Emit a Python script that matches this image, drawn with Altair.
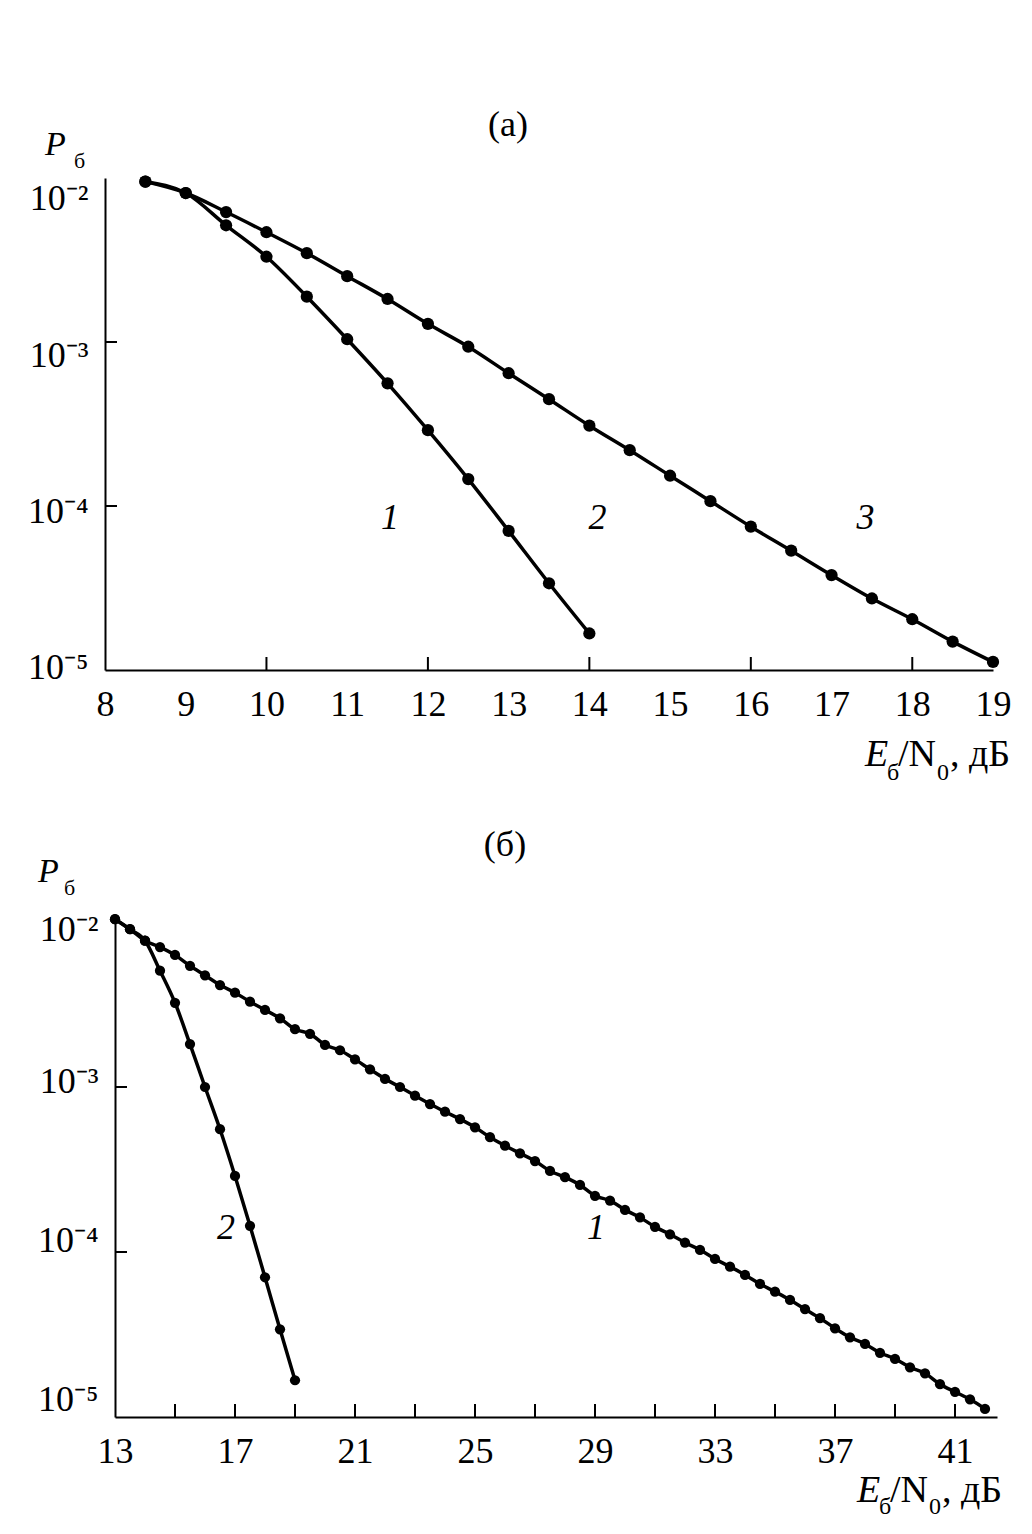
import altair as alt
import pandas as pd

FONT = "Liberation Serif"

# ---------------- panel (a) data ----------------
a_x_long = [8.5, 9, 9.5, 10, 10.5, 11, 11.5, 12, 12.5, 13, 13.5, 14, 14.5, 15, 15.5, 16,
            16.5, 17, 17.5, 18, 18.5, 19]
a_p_long = [9.5e-3, 8.1e-3, 6.2e-3, 4.67e-3, 3.48e-3, 2.52e-3, 1.83e-3, 1.29e-3, 9.36e-4,
            6.45e-4, 4.48e-4, 3.09e-4, 2.19e-4, 1.53e-4, 1.07e-4, 7.48e-5, 5.34e-5, 3.79e-5,
            2.73e-5, 2.04e-5, 1.49e-5, 1.12e-5]
a_x_steep = [8.5, 9, 9.5, 10, 10.5, 11, 11.5, 12, 12.5, 13, 13.5, 14]
a_p_steep = [9.5e-3, 8.1e-3, 5.15e-3, 3.31e-3, 1.89e-3, 1.04e-3, 5.6e-4, 2.9e-4, 1.46e-4,
             7.05e-5, 3.38e-5, 1.67e-5]
a_x_labels = [8, 9, 10, 11, 12, 13, 14, 15, 16, 17, 18, 19]
a_x_inner_ticks = [10, 12, 14, 16, 18]
a_curve_names = ["1", "2", "3"]
a_curve_name_x = [11.53, 14.1, 17.42]
a_curve_name_p = [8.45e-5, 8.45e-5, 8.45e-5]

# ---------------- panel (b) data ----------------
b_x_1 = [13, 13.5, 14, 14.5, 15, 15.5, 16, 16.5, 17, 17.5, 18, 18.5, 19, 19.5, 20, 20.5,
         21, 21.5, 22, 22.5, 23, 23.5, 24, 24.5, 25, 25.5, 26, 26.5, 27, 27.5, 28, 28.5,
         29, 29.5, 30, 30.5, 31, 31.5, 32, 32.5, 33, 33.5, 34, 34.5, 35, 35.5, 36, 36.5,
         37, 37.5, 38, 38.5, 39, 39.5, 40, 40.5, 41, 41.5, 42]
b_p_1 = [1.04e-2, 9.04e-3, 7.71e-3, 7.05e-3, 6.31e-3, 5.43e-3, 4.75e-3, 4.15e-3, 3.73e-3,
         3.29e-3, 2.93e-3, 2.61e-3, 2.24e-3, 2.10e-3, 1.80e-3, 1.67e-3, 1.47e-3, 1.28e-3,
         1.12e-3, 1.00e-3, 8.86e-4, 7.88e-4, 7.08e-4, 6.39e-4, 5.70e-4, 4.96e-4, 4.41e-4,
         3.96e-4, 3.56e-4, 3.10e-4, 2.84e-4, 2.55e-4, 2.19e-4, 2.05e-4, 1.80e-4, 1.62e-4,
         1.42e-4, 1.28e-4, 1.14e-4, 1.03e-4, 9.07e-5, 8.15e-5, 7.26e-5, 6.40e-5, 5.75e-5,
         5.12e-5, 4.51e-5, 3.97e-5, 3.45e-5, 3.04e-5, 2.77e-5, 2.45e-5, 2.25e-5, 2.00e-5,
         1.84e-5, 1.58e-5, 1.42e-5, 1.28e-5, 1.12e-5]
b_x_2 = [13, 13.5, 14, 14.5, 15, 15.5, 16, 16.5, 17, 17.5, 18, 18.5, 19]
b_p_2 = [1.04e-2, 9.04e-3, 7.71e-3, 5.07e-3, 3.24e-3, 1.82e-3, 1.00e-3, 5.55e-4, 2.89e-4,
         1.44e-4, 7.03e-5, 3.40e-5, 1.67e-5]
b_x_labels = [13, 17, 21, 25, 29, 33, 37, 41]
b_x_inner_ticks = [15, 17, 19, 21, 23, 25, 27, 29, 31, 33, 35, 37, 39, 41]
b_curve_names = ["2", "1"]
b_curve_name_x = [16.7, 29.03]
b_curve_name_p = [1.4e-4, 1.4e-4]

# shared
y_tick_values = [1e-5, 1e-4, 1e-3, 1e-2]
y_tick_labels = ["10⁻⁵", "10⁻⁴", "10⁻³", "10⁻²"]
y_inner_ticks = [1e-4, 1e-3]
panel_titles = ["(а)", "(б)"]
y_title_main, y_title_sub = "P", "б"
x_title_parts = ["E", "б", "/N", "0", ", дБ"]

label_expr = "['" + "','".join(y_tick_labels) + "'][round(log(datum.value)/LN10) + 5]"


def ann(text, x, y, size, italic=False, align="left", baseline="alphabetic"):
    return alt.Chart(pd.DataFrame({"t": [text]})).mark_text(
        align=align, baseline=baseline, font=FONT, fontSize=size,
        fontStyle="italic" if italic else "normal", color="black"
    ).encode(x=alt.value(x), y=alt.value(y), text="t:N")


def panel(curves, x_dom, W, H, x_labels, x_inner, pt_size, names, nx, npv,
          title, title_pos, ytitle_pos, xtitle_pos, x_lab_pad, y_offsets):
    xs = alt.Scale(domain=x_dom, nice=False, zero=False)
    ys = alt.Scale(type="log", domain=[1e-5, 1e-2], nice=False)
    o2, o3, o4, o5 = y_offsets
    y_off = {"condition": [{"test": "datum.value > 0.005", "value": o2},
                           {"test": "datum.value > 0.0005", "value": o3},
                           {"test": "datum.value > 0.00005", "value": o4}],
             "value": o5}
    xaxis = alt.Axis(values=x_labels, title=None, ticks=False, grid=False,
                     labelFont=FONT, labelFontSize=36, labelColor="black",
                     labelPadding=x_lab_pad, domainColor="black", domainWidth=2,
                     labelFlush=False, labelOverlap=False)
    yaxis = alt.Axis(values=y_tick_values, title=None, ticks=False, grid=False,
                     labelFont=FONT, labelFontSize=36, labelColor="black",
                     labelPadding=17, labelOffset=y_off, labelExpr=label_expr,
                     domainColor="black", domainWidth=2, labelFlush=False,
                     labelOverlap=False)
    X = lambda f: alt.X(f, scale=xs, axis=xaxis, title=None)
    Y = lambda f: alt.Y(f, scale=ys, axis=yaxis, title=None)
    rows = []
    for cid, (xv, pv) in enumerate(curves):
        for a, b in zip(xv, pv):
            rows.append({"x": a, "p": b, "c": str(cid)})
    df = pd.DataFrame(rows)
    base = alt.Chart(df)
    lines = base.mark_line(color="black", strokeWidth=3.5, interpolate="monotone").encode(
        x=X("x:Q"), y=Y("p:Q"), detail="c:N")
    pts = base.mark_circle(color="black", opacity=1, size=pt_size).encode(
        x=X("x:Q"), y=Y("p:Q"))
    xt = alt.Chart(pd.DataFrame({"x": x_inner})).mark_rule(color="black", strokeWidth=2).encode(
        x=X("x:Q"), y=alt.value(H), y2=alt.value(H - 13))
    yt = alt.Chart(pd.DataFrame({"p": y_inner_ticks})).mark_rule(color="black", strokeWidth=2).encode(
        y=Y("p:Q"), x=alt.value(0), x2=alt.value(12))
    labs = alt.Chart(pd.DataFrame({"x": nx, "p": npv, "t": names})).mark_text(
        font=FONT, fontSize=36, fontStyle="italic", color="black").encode(
        x=X("x:Q"), y=Y("p:Q"), text="t:N")
    tx, ty = title_pos
    px, py, sx, sy = ytitle_pos
    ex, ey, sub = xtitle_pos
    texts = [
        ann(title, tx, ty, 36, align="center", baseline="middle"),
        ann(y_title_main, px, py, 34, italic=True),
        ann(y_title_sub, sx, sy, 22),
        ann(x_title_parts[0], ex, ey, 38, italic=True),
        ann(x_title_parts[1], ex + 22, ey + sub, 24),
        ann(x_title_parts[2], ex + 33, ey, 38),
        ann(x_title_parts[3], ex + 72, ey + sub, 24),
        ann(x_title_parts[4], ex + 85, ey, 38),
    ]
    return alt.layer(lines, pts, xt, yt, labs, *texts).properties(width=W, height=H)


def spacer(w):
    return alt.Chart(pd.DataFrame({"v": [0]})).mark_point(opacity=0).properties(width=w, height=1)


top = panel([(a_x_long, a_p_long), (a_x_steep, a_p_steep)], [8, 19], 888, 492,
            a_x_labels, a_x_inner_ticks, 150, a_curve_names, a_curve_name_x, a_curve_name_p,
            panel_titles[0], (403, -53), (-60, -23, -31, -10), (760, 588, 14), 17,
            (20, 13, 5, -3))
bottom = panel([(b_x_1, b_p_1), (b_x_2, b_p_2)], [13, 42.4], 882, 495,
               b_x_labels, b_x_inner_ticks, 105, b_curve_names, b_curve_name_x, b_curve_name_p,
               panel_titles[1], (390, -77), (-77, -40, -51, -27), (742, 580, 12), 17,
               (7, -6, -12, -18))

chart = alt.vconcat(
    alt.hconcat(spacer(14), top, spacing=0),
    alt.hconcat(spacer(24), bottom, spacing=0),
    spacing=42,
).properties(
    padding={"left": 5, "top": 99, "right": 0, "bottom": 0},
    background="white",
).configure_view(stroke=None)

chart.save("out.html", embed_options={"renderer": "svg", "actions": False})
